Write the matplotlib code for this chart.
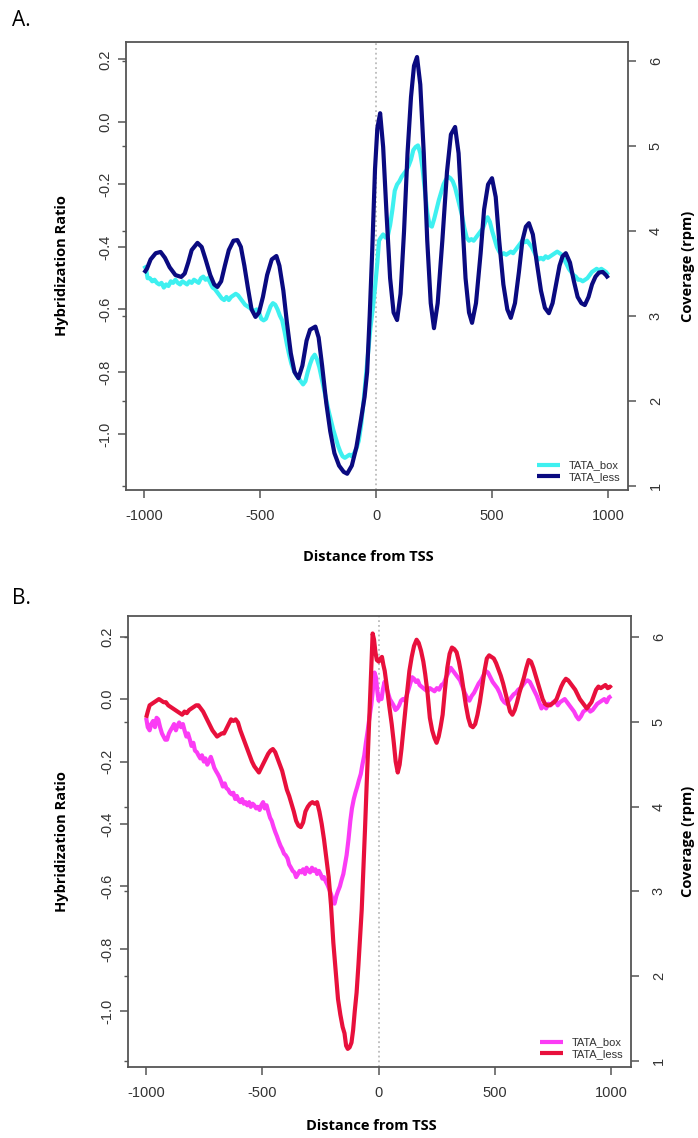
import numpy as np
import matplotlib
matplotlib.use("Agg")
import matplotlib.pyplot as plt

# ---------------- data ----------------
# Panel A, TATA_box (cyan)
a_box_x = [-1000, -992, -985, -975, -965, -955, -945, -935, -925, -915, -905, -895, -885, -875, -865, -855,
           -845, -835, -825, -815, -805, -795, -785, -775, -765, -755, -745, -735, -725, -715, -705, -695,
           -685, -675, -665, -655, -645, -635, -625, -615, -605, -595, -585, -575, -565, -555, -545, -535,
           -525, -515, -505, -495, -485, -475, -465, -455, -445, -435, -425, -415, -405, -395, -385, -375,
           -365, -355, -345, -335, -325, -315, -305, -295, -285, -275, -265, -255, -245, -235, -225, -215,
           -205, -195, -185, -175, -165, -155, -145, -135, -125, -115, -105, -95, -85, -75, -65, -55,
           -45, -35, -25, -15, -5, 5, 12, 20, 30, 40, 50, 60, 70, 80, 90, 100,
           110, 120, 130, 140, 150, 160, 170, 180, 190, 200, 210, 220, 230, 240, 250, 260,
           270, 280, 290, 300, 310, 320, 330, 340, 350, 360, 370, 380, 390, 400, 410, 420,
           430, 440, 450, 460, 470, 480, 490, 500, 510, 520, 530, 540, 550, 560, 570, 580,
           590, 600, 610, 620, 630, 640, 650, 660, 670, 680, 690, 700, 710, 720, 730, 740,
           750, 760, 770, 780, 790, 800, 810, 820, 830, 840, 850, 860, 870, 880, 890, 900,
           910, 920, 930, 940, 950, 960, 970, 980, 990, 1000]
a_box_y = [-0.46, -0.47, -0.50, -0.50, -0.51, -0.505, -0.515, -0.52, -0.515, -0.53, -0.52, -0.525, -0.51, -0.515, -0.505, -0.515,
           -0.52, -0.51, -0.515, -0.52, -0.51, -0.515, -0.505, -0.51, -0.515, -0.50, -0.495, -0.505, -0.50, -0.515, -0.53, -0.535,
           -0.545, -0.555, -0.565, -0.57, -0.56, -0.57, -0.56, -0.555, -0.55, -0.555, -0.565, -0.575, -0.585, -0.59, -0.595, -0.60,
           -0.605, -0.60, -0.61, -0.63, -0.635, -0.63, -0.61, -0.59, -0.58, -0.585, -0.60, -0.62, -0.635, -0.67, -0.71, -0.745,
           -0.775, -0.795, -0.81, -0.82, -0.83, -0.84, -0.83, -0.80, -0.775, -0.755, -0.745, -0.76, -0.785, -0.82, -0.855, -0.89,
           -0.925, -0.955, -0.985, -1.01, -1.035, -1.055, -1.07, -1.075, -1.07, -1.065, -1.07, -1.06, -1.045, -1.02, -0.97, -0.90,
           -0.82, -0.74, -0.66, -0.60, -0.53, -0.45, -0.38, -0.37, -0.36, -0.37, -0.365, -0.33, -0.28, -0.22, -0.20, -0.19,
           -0.175, -0.165, -0.155, -0.14, -0.12, -0.09, -0.08, -0.075, -0.10, -0.15, -0.22, -0.29, -0.33, -0.335, -0.31, -0.28,
           -0.25, -0.225, -0.20, -0.185, -0.175, -0.18, -0.19, -0.21, -0.24, -0.27, -0.30, -0.34, -0.37, -0.38, -0.375, -0.38,
           -0.37, -0.36, -0.35, -0.34, -0.32, -0.305, -0.32, -0.35, -0.375, -0.40, -0.415, -0.425, -0.42, -0.425, -0.42, -0.415,
           -0.42, -0.41, -0.40, -0.39, -0.38, -0.385, -0.38, -0.39, -0.40, -0.415, -0.43, -0.44, -0.435, -0.44, -0.43, -0.435,
           -0.43, -0.425, -0.42, -0.415, -0.42, -0.425, -0.44, -0.455, -0.47, -0.48, -0.49, -0.495, -0.505, -0.505, -0.51, -0.505,
           -0.50, -0.49, -0.48, -0.475, -0.47, -0.475, -0.47, -0.475, -0.48, -0.49]

# Panel A, TATA_less (navy)
a_less_x = [-1000, -988, -972, -950, -929, -910, -890, -865, -840, -825, -810, -795, -770, -752, -735, -715,
            -698, -684, -668, -652, -635, -615, -598, -583, -568, -553, -537, -520, -505, -488, -470, -450,
            -430, -417, -400, -385, -368, -352, -335, -318, -300, -285, -262, -248, -233, -215, -198, -180,
            -160, -140, -125, -105, -85, -65, -50, -39, -28, -17, -5, 5, 17, 30, 45, 60,
            75, 90, 105, 120, 135, 150, 163, 176, 190, 205, 220, 235, 249, 265, 285, 305,
            322, 340, 355, 370, 385, 400, 413, 430, 450, 465, 482, 499, 515, 530, 548, 565,
            580, 598, 615, 630, 645, 658, 675, 692, 710, 727, 744, 760, 775, 790, 803, 817,
            835, 852, 868, 884, 899, 915, 930, 945, 960, 976, 990, 1000]
a_less_y = [-0.483, -0.47, -0.44, -0.42, -0.416, -0.435, -0.465, -0.49, -0.496, -0.485, -0.45, -0.41, -0.387, -0.40, -0.44, -0.49,
            -0.52, -0.528, -0.51, -0.46, -0.41, -0.38, -0.378, -0.40, -0.46, -0.53, -0.60, -0.624, -0.61, -0.56, -0.49, -0.44,
            -0.429, -0.46, -0.54, -0.64, -0.74, -0.80, -0.82, -0.78, -0.70, -0.665, -0.655, -0.69, -0.78, -0.90, -0.99, -1.06,
            -1.10, -1.12, -1.126, -1.10, -1.04, -0.95, -0.88, -0.80, -0.62, -0.41, -0.15, -0.02, 0.028, -0.08, -0.30, -0.50,
            -0.61, -0.634, -0.55, -0.35, -0.10, 0.08, 0.18, 0.208, 0.12, -0.10, -0.38, -0.58, -0.66, -0.58, -0.38, -0.16,
            -0.04, -0.016, -0.10, -0.30, -0.50, -0.61, -0.643, -0.58, -0.42, -0.28, -0.20, -0.18, -0.24, -0.38, -0.52, -0.60,
            -0.627, -0.58, -0.48, -0.38, -0.335, -0.324, -0.36, -0.45, -0.54, -0.595, -0.612, -0.58, -0.52, -0.46, -0.43, -0.42,
            -0.45, -0.51, -0.56, -0.58, -0.586, -0.56, -0.52, -0.495, -0.482, -0.48, -0.49, -0.50]

# Panel B, TATA_box (magenta)
b_box_x = [-1000, -993, -985, -978, -970, -962, -955, -948, -940, -932, -925, -918, -910, -902, -895, -887,
           -880, -872, -865, -858, -850, -842, -835, -827, -820, -812, -805, -797, -790, -782, -775, -767,
           -760, -752, -745, -737, -730, -722, -715, -707, -700, -692, -685, -677, -670, -662, -655, -647,
           -640, -632, -625, -617, -610, -602, -595, -587, -580, -572, -565, -557, -550, -542, -535, -527,
           -520, -512, -505, -497, -490, -482, -475, -467, -460, -452, -445, -437, -430, -422, -415, -407,
           -400, -392, -385, -377, -370, -362, -355, -347, -340, -332, -325, -317, -310, -302, -295, -287,
           -280, -272, -265, -257, -250, -242, -235, -227, -220, -212, -205, -197, -190, -182, -175, -167,
           -160, -152, -145, -138, -130, -122, -115, -107, -100, -92, -85, -77, -70, -62, -55, -47,
           -40, -32, -25, -18, -12, -5, 0, 5, 12, 18, 25, 32, 40, 48, 56, 64,
           72, 80, 88, 96, 104, 112, 120, 128, 136, 144, 152, 160, 168, 176, 184, 192,
           200, 210, 220, 230, 240, 250, 260, 270, 280, 290, 300, 310, 320, 330, 340, 350,
           360, 370, 380, 390, 400, 410, 420, 430, 440, 450, 460, 470, 480, 490, 500, 510,
           520, 530, 540, 550, 560, 570, 580, 590, 600, 610, 620, 630, 640, 650, 660, 670,
           680, 690, 700, 710, 720, 730, 740, 750, 760, 770, 780, 790, 800, 810, 820, 830,
           840, 850, 860, 870, 880, 890, 900, 910, 920, 930, 940, 950, 960, 970, 980, 990, 1000]
b_box_y = [-0.06, -0.09, -0.10, -0.08, -0.07, -0.09, -0.06, -0.065, -0.09, -0.11, -0.12, -0.13, -0.13, -0.11, -0.10, -0.09,
           -0.08, -0.10, -0.085, -0.075, -0.09, -0.08, -0.10, -0.12, -0.11, -0.13, -0.15, -0.14, -0.165, -0.17, -0.18, -0.19,
           -0.18, -0.20, -0.19, -0.21, -0.20, -0.185, -0.20, -0.22, -0.23, -0.24, -0.25, -0.265, -0.28, -0.27, -0.285, -0.29,
           -0.30, -0.305, -0.30, -0.32, -0.31, -0.325, -0.33, -0.32, -0.335, -0.33, -0.34, -0.33, -0.345, -0.335, -0.34, -0.35,
           -0.345, -0.355, -0.34, -0.33, -0.35, -0.34, -0.36, -0.38, -0.39, -0.41, -0.425, -0.44, -0.455, -0.47, -0.48, -0.495,
           -0.50, -0.51, -0.53, -0.54, -0.55, -0.555, -0.57, -0.56, -0.55, -0.555, -0.545, -0.56, -0.54, -0.55, -0.555, -0.54,
           -0.55, -0.545, -0.56, -0.55, -0.56, -0.575, -0.57, -0.585, -0.595, -0.61, -0.625, -0.645, -0.655, -0.63, -0.615, -0.60,
           -0.58, -0.56, -0.53, -0.50, -0.45, -0.39, -0.35, -0.32, -0.30, -0.28, -0.26, -0.24, -0.21, -0.18, -0.14, -0.10,
           -0.06, -0.02, 0.03, 0.085, 0.07, 0.02, -0.005, 0.01, 0.0, 0.03, 0.055, 0.04, 0.02, 0.0, -0.01, -0.02,
           -0.035, -0.03, -0.02, -0.005, 0.0, -0.005, 0.01, 0.03, 0.05, 0.07, 0.065, 0.055, 0.06, 0.045, 0.04, 0.035,
           0.03, 0.025, 0.035, 0.03, 0.025, 0.035, 0.03, 0.045, 0.05, 0.07, 0.085, 0.10, 0.09, 0.08, 0.07, 0.06,
           0.04, 0.02, 0.005, -0.005, 0.01, 0.02, 0.035, 0.05, 0.06, 0.075, 0.09, 0.085, 0.07, 0.055, 0.045, 0.035,
           0.02, 0.0, -0.01, -0.015, -0.005, 0.005, 0.015, 0.02, 0.03, 0.035, 0.045, 0.055, 0.06, 0.055, 0.04, 0.025,
           0.01, -0.01, -0.03, -0.02, -0.03, -0.015, -0.02, -0.01, -0.005, -0.02, -0.01, -0.005, 0.0, -0.01, -0.02, -0.03,
           -0.04, -0.055, -0.065, -0.055, -0.04, -0.035, -0.03, -0.04, -0.035, -0.025, -0.015, -0.01, -0.005, 0.0, -0.01, 0.005, 0.01]

# Panel B, TATA_less (red)
b_less_x = [-1000, -993, -985, -975, -965, -955, -945, -935, -925, -915, -905, -895, -885, -875, -865, -855,
            -845, -835, -825, -815, -805, -795, -785, -775, -765, -755, -745, -735, -725, -715, -705, -695,
            -685, -675, -665, -655, -645, -635, -625, -615, -605, -595, -585, -575, -565, -555, -545, -535,
            -525, -515, -505, -495, -485, -475, -465, -455, -445, -435, -425, -415, -405, -395, -385, -375,
            -365, -355, -345, -335, -325, -315, -305, -295, -285, -275, -265, -255, -245, -235, -225, -215,
            -205, -195, -185, -175, -165, -155, -147, -140, -133, -125, -117, -110, -103, -95, -87, -80,
            -73, -66, -59, -52, -45, -38, -32, -26, -20, -14, -8, 0, 8, 14, 20, 26,
            35, 45, 56, 65, 73, 82, 90, 98, 106, 114, 122, 132, 142, 152, 163, 172,
            182, 192, 200, 210, 220, 230, 240, 249, 258, 266, 275, 285, 295, 305, 315, 325,
            335, 345, 355, 365, 375, 385, 395, 405, 415, 425, 435, 445, 455, 465, 475, 485,
            495, 505, 515, 525, 535, 545, 555, 565, 575, 585, 595, 605, 615, 625, 635, 645,
            655, 665, 675, 685, 695, 705, 715, 725, 735, 745, 755, 765, 775, 785, 795, 805,
            815, 825, 835, 845, 855, 865, 875, 885, 895, 905, 915, 925, 935, 945, 955, 965,
            975, 985, 995, 1000]
b_less_y = [-0.06, -0.04, -0.02, -0.015, -0.01, -0.005, 0.0, -0.005, -0.01, -0.01, -0.02, -0.025, -0.03, -0.035, -0.04, -0.045,
            -0.05, -0.04, -0.045, -0.035, -0.03, -0.025, -0.02, -0.02, -0.03, -0.04, -0.055, -0.07, -0.085, -0.10, -0.11, -0.12,
            -0.115, -0.11, -0.11, -0.095, -0.08, -0.065, -0.07, -0.065, -0.075, -0.10, -0.12, -0.14, -0.16, -0.18, -0.20, -0.215,
            -0.225, -0.235, -0.22, -0.205, -0.19, -0.175, -0.165, -0.16, -0.17, -0.19, -0.21, -0.23, -0.26, -0.29, -0.31, -0.335,
            -0.36, -0.39, -0.405, -0.41, -0.395, -0.36, -0.345, -0.335, -0.33, -0.335, -0.33, -0.36, -0.40, -0.45, -0.51, -0.57,
            -0.66, -0.78, -0.87, -0.96, -1.01, -1.05, -1.07, -1.11, -1.12, -1.115, -1.10, -1.06, -1.00, -0.94, -0.85, -0.76,
            -0.675, -0.55, -0.42, -0.28, -0.15, -0.02, 0.10, 0.21, 0.19, 0.15, 0.125, 0.12, 0.13, 0.135, 0.11, 0.09,
            0.04, -0.02, -0.08, -0.14, -0.20, -0.235, -0.21, -0.16, -0.10, -0.04, 0.02, 0.09, 0.135, 0.17, 0.19, 0.18,
            0.155, 0.12, 0.08, 0.02, -0.06, -0.10, -0.125, -0.14, -0.12, -0.09, -0.05, 0.03, 0.10, 0.145, 0.165, 0.16,
            0.15, 0.12, 0.08, 0.03, -0.02, -0.06, -0.085, -0.09, -0.08, -0.05, -0.01, 0.04, 0.09, 0.13, 0.14, 0.135,
            0.13, 0.115, 0.095, 0.075, 0.05, 0.02, -0.01, -0.04, -0.05, -0.035, -0.01, 0.02, 0.045, 0.07, 0.10, 0.125,
            0.12, 0.10, 0.075, 0.05, 0.025, 0.0, -0.015, -0.02, -0.02, -0.015, -0.01, 0.0, 0.02, 0.04, 0.055, 0.065,
            0.06, 0.05, 0.04, 0.03, 0.015, 0.0, -0.01, -0.02, -0.03, -0.02, -0.01, 0.01, 0.03, 0.04, 0.035, 0.04,
            0.045, 0.035, 0.04, 0.035]

legend_labels = ["TATA_box", "TATA_less"]
x_ticks = [-1000, -500, 0, 500, 1000]
ratio_ticks = [0.2, 0.0, -0.2, -0.4, -0.6, -0.8, -1.0]
cov_ticks = [1, 2, 3, 4, 5, 6]

grey = "#555555"
tick_font = dict(family="Liberation Sans", size=10.5, color="#333333")


def draw_panel(rect, box_x, box_y, less_x, less_y, col_box, col_less, ylim, cov_lim, tag, tag_y, xlab_off):
    ax = fig.add_axes(rect)
    ax.plot(box_x, box_y, color=col_box, lw=3.0, solid_capstyle="butt", zorder=3)
    ax.plot(less_x, less_y, color=col_less, lw=3.0, solid_capstyle="butt", zorder=4)
    ax.axvline(0, color="#bbbbbb", ls=":", lw=1.3, zorder=2)

    for s in ax.spines.values():
        s.set_color(grey)
        s.set_linewidth(1.3)

    ax.set_xlim(-1078, 1085)
    ax.set_ylim(*ylim)
    ax.set_xticks(x_ticks)
    ax.set_xticklabels([str(v) for v in x_ticks], fontdict=tick_font)
    ax.set_yticks(ratio_ticks)
    ax.set_yticklabels(["%.1f" % v for v in ratio_ticks], fontdict=tick_font)
    for t in ax.get_yticklabels():
        t.set_rotation(90)
        t.set_verticalalignment("center")
    ax.tick_params(axis="x", length=6, width=1.1, color=grey, pad=8)
    ax.tick_params(axis="y", length=6, width=1.1, color=grey, pad=4)

    # right axis: coverage
    ax2 = ax.twinx()
    ax2.set_ylim(*cov_lim)
    ax2.set_yticks(cov_ticks)
    ax2.set_yticklabels([str(v) for v in cov_ticks], fontdict=tick_font)
    for t in ax2.get_yticklabels():
        t.set_rotation(90)
        t.set_verticalalignment("center")
    ax2.tick_params(axis="y", length=6, width=1.1, color=grey, pad=9)
    for s in ax2.spines.values():
        s.set_visible(False)

    # coverage ticks repeated faintly on the left side
    ax3 = ax.twinx()
    ax3.yaxis.tick_left()
    ax3.set_ylim(*cov_lim)
    ax3.set_yticks(cov_ticks)
    ax3.tick_params(axis="y", length=3, width=1.0, color=grey, labelleft=False)
    for s in ax3.spines.values():
        s.set_visible(False)

    handles = ax.get_lines()[:2]
    ax.legend(handles, legend_labels, loc="lower right", bbox_to_anchor=(1.0, 0.0), frameon=False,
              prop={"family": "Liberation Sans", "size": 8}, labelcolor="#333333",
              handlelength=2.0, handletextpad=0.8, labelspacing=0.15, borderaxespad=0.3)

    l, b, w, h = rect
    fig.text(62 / 698, b + h / 2, "Hybridization Ratio", rotation=90, ha="center", va="center",
             family="Open Sans", weight="bold", size=10.5)
    fig.text(688 / 698, b + h / 2, "Coverage (rpm)", rotation=90, ha="center", va="center",
             family="Open Sans", weight="bold", size=10.5)
    fig.text(l + w / 2 - 0.012, b - xlab_off / 1138, "Distance from TSS", ha="center", va="center",
             family="Open Sans", weight="bold", size=10.5)
    fig.text(12 / 698, 1 - tag_y / 1138, tag, ha="left", va="center", family="Open Sans", size=15)
    return ax


fig = plt.figure(figsize=(6.98, 11.38), dpi=100)
draw_panel([126 / 698, 1 - 490 / 1138, 502 / 698, 448 / 1138], a_box_x, a_box_y, a_less_x, a_less_y,
           "#3ef0f0", "#0a0a80", (-1.178, 0.256), (0.953, 6.224), "A.", 20, 67)
draw_panel([128 / 698, 1 - 1067 / 1138, 503 / 698, 451 / 1138], b_box_x, b_box_y, b_less_x, b_less_y,
           "#fb3cf5", "#e8103c", (-1.178, 0.266), (0.929, 6.248), "B.", 598, 59)

fig.savefig("out.png", dpi=100)
